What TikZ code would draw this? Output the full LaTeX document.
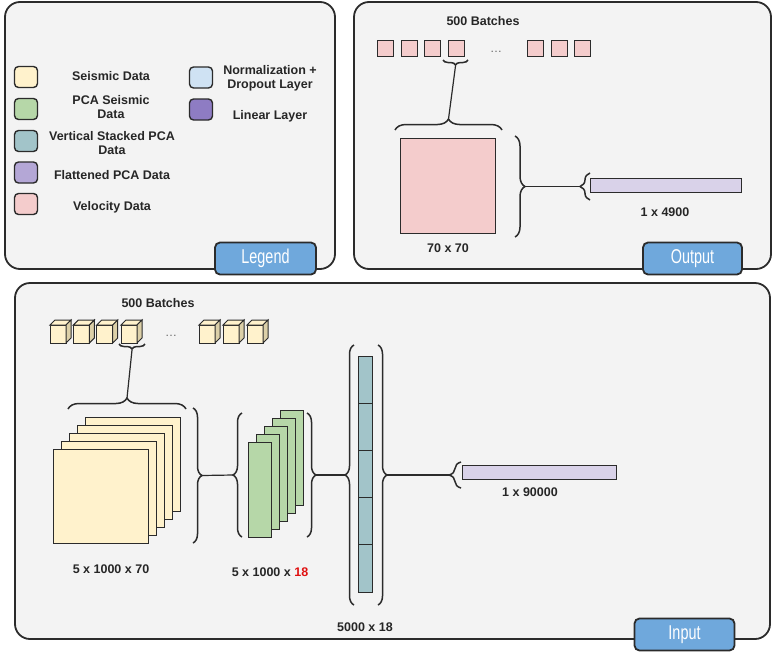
\documentclass[tikz,border=0pt]{standalone}
\usepackage{fontspec}
\setmainfont{Liberation Sans}
\usetikzlibrary{decorations.pathreplacing}
\definecolor{panelfill}{HTML}{F3F3F3}
\definecolor{edge}{HTML}{2B2B2B}
\definecolor{seis}{HTML}{FFF2CC}
\definecolor{seisside}{HTML}{DCD0A8}
\definecolor{pca}{HTML}{B6D7A8}
\definecolor{vert}{HTML}{A2C4C9}
\definecolor{flat}{HTML}{B4A7D6}
\definecolor{flatbar}{HTML}{D9D2E9}
\definecolor{velo}{HTML}{F4CCCC}
\definecolor{norm}{HTML}{CFE2F3}
\definecolor{lin}{HTML}{8E7CC3}
\definecolor{tabblue}{HTML}{6FA8DC}
\definecolor{redtxt}{HTML}{E01010}
\newcommand{\tabtext}[1]{\scalebox{0.72}[1]{\fontsize{20}{24}\selectfont #1}}
\newcommand{\mycube}[1]{%
  \draw[edge,line width=1pt,fill=seis] (#1,325) rectangle (#1+16,343);
  \draw[edge,line width=1pt,fill=seis] (#1,325) -- (#1+5,320) -- (#1+21,320) -- (#1+16,325) -- cycle;
  \draw[edge,line width=1pt,fill=seisside] (#1+16,325) -- (#1+21,320) -- (#1+21,338) -- (#1+16,343) -- cycle;}
\begin{document}
\begin{tikzpicture}[x=1pt,y=-1pt,
  panel/.style={draw=edge,line width=1.8pt,fill=panelfill,rounded corners=15pt},
  tab/.style={draw=edge,line width=1.8pt,fill=tabblue,rounded corners=5pt,text=white,inner sep=0pt},
  swatch/.style={draw=edge,line width=1.4pt,rounded corners=4pt,minimum width=23pt,minimum height=21pt,inner sep=0pt},
  lbl/.style={font=\fontsize{12.5}{14.5}\selectfont\bfseries,text=black!85,align=center,inner sep=0pt},
  blk/.style={draw=edge,line width=1pt},
  brc/.style={decorate,decoration={brace,amplitude=#1},draw=edge,line width=1.5pt},
  conn/.style={draw=edge,line width=1.2pt},
  dots/.style={font=\fontsize{12}{14}\selectfont,text=black!60,inner sep=0pt}]
\useasboundingbox (0,0) rectangle (776,651);

% ---------- panels ----------
\draw[panel] (5,2) rectangle (335,269);
\draw[panel] (354,2) rectangle (771,269);
\draw[panel] (15,283) rectangle (770,639);
\node[tab,minimum width=101pt,minimum height=32pt] (legtab) at (265.5,258.5) {\tabtext{Legend}};
\node[tab,minimum width=99pt,minimum height=32pt] (outtab) at (692.5,258.5) {\tabtext{Output}};
\node[tab,minimum width=100pt,minimum height=32pt] (intab) at (684.5,634.5) {\tabtext{Input}};

% ---------- legend ----------
\node[swatch,fill=seis] (s1) at (26,77) {};
\node[swatch,fill=pca] (s2) at (26,109) {};
\node[swatch,fill=vert] (s3) at (26,141) {};
\node[swatch,fill=flat] (s4) at (26,172.5) {};
\node[swatch,fill=velo] (s5) at (26,204) {};
\node[swatch,fill=norm] (s6) at (201,77.5) {};
\node[swatch,fill=lin] (s7) at (201,109.5) {};
\node[lbl] (l1) at (111,76) {Seismic Data};
\node[lbl] (l2) at (111,107) {PCA Seismic\\Data};
\node[lbl] (l3) at (112,143) {Vertical Stacked PCA\\Data};
\node[lbl] (l4) at (112,175) {Flattened PCA Data};
\node[lbl] (l5) at (112,207) {Velocity Data};
\node[lbl] (l6) at (270,78.5) {Normalization +\\Dropout Layer};
\node[lbl] (l7) at (270,116) {Linear Layer};

% ---------- output ----------
\node[lbl] (obatch) at (483,21) {500 Batches};
\foreach \xx in {377,401,424,448,527,551,574}
  \draw[blk,fill=velo] (\xx,40) rectangle (\xx+16,56.5);
\node[dots] (odots) at (496,52) {\ldots};
\draw[brc=5] (468,60) -- (443,60);
\coordinate (osb) at (455.5,66);
\draw[brc=11] (395,130) -- (502,130);
\coordinate (obb) at (448.5,119);
\draw[conn] (osb) -- (obb);
\node[blk,fill=velo,minimum width=95pt,minimum height=95pt,inner sep=0pt] (vsq) at (447.5,185.5) {};
\node[lbl] (o70) at (448,248) {70 x 70};
\draw[brc=10] (515,136) -- (515,237);
\coordinate (orb) at (525,186.5);
\draw[brc=10] (590,200) -- (590,173);
\coordinate (olb) at (580,186.5);
\draw[conn] (orb) -- (olb);
\draw[blk,fill=flatbar] (590,178) rectangle (741,192);
\node[lbl] (o4900) at (665,212) {1 x 4900};

% ---------- input ----------
\node[lbl] (ibatch) at (158,303) {500 Batches};
\foreach \xx in {50,73.3,96.7,121,199,223,247} { \mycube{\xx} }
\node[dots] (idots) at (171,336) {\ldots};
\draw[brc=5] (145,344) -- (119,344);
\coordinate (isb) at (132,350);
\draw[brc=11] (68,409) -- (186,409);
\coordinate (ibb) at (127,398);
\draw[conn] (isb) -- (ibb);
\foreach \i in {4,3,2,1,0}
  \draw[blk,fill=seis] (53+8*\i,449-8*\i) rectangle (148+8*\i,543-8*\i);
\node[lbl] (i70) at (111,569) {5 x 1000 x 70};
\draw[brc=9] (193,408) -- (193,543);
\coordinate (ir1) at (202,475.5);
\draw[brc=9] (242,537) -- (242,413);
\coordinate (il1) at (233,475);
\draw[conn] (ir1) -- (il1);
\foreach \i in {4,3,2,1,0}
  \draw[blk,fill=pca] (248+8*\i,442-8*\i) rectangle (271+8*\i,537-8*\i);
\node[lbl] (i18) at (270,572) {5 x 1000 x {\color{redtxt}18}};
\draw[brc=9] (307,413) -- (307,537);
\coordinate (ir2) at (316,475);
\draw[brc=9] (354,605) -- (354,345);
\coordinate (il2) at (345,475);
\draw[conn] (ir2) -- (il2);
\draw[blk,fill=vert] (358,356) rectangle (372,592);
\foreach \yy in {403.2,450.4,497.6,544.8}
  \draw[edge,line width=1.3pt] (358,\yy) -- (372,\yy);
\node[lbl] (i5000) at (365,627) {5000 x 18};
\draw[brc=9] (378,345) -- (378,605);
\coordinate (ir3) at (387,475);
\draw[brc=12] (461,488) -- (461,462);
\coordinate (il3) at (449,475);
\draw[conn] (ir3) -- (il3);
\draw[blk,fill=flatbar] (462,465) rectangle (616,479);
\node[lbl] (i90000) at (530,492) {1 x 90000};
\end{tikzpicture}
\end{document}
